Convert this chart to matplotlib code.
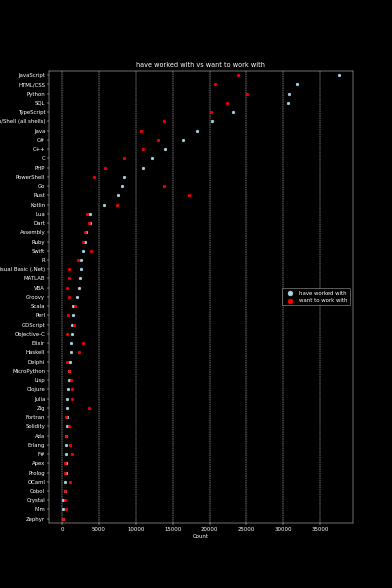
import matplotlib
matplotlib.use("Agg")
import matplotlib.pyplot as plt

# languages sorted by "have worked with" count
languages = ['JavaScript', 'HTML/CSS', 'Python', 'SQL', 'TypeScript',
             'Bash/Shell (all shells)', 'Java', 'C#', 'C++', 'C', 'PHP',
             'PowerShell', 'Go', 'Rust', 'Kotlin', 'Lua', 'Dart', 'Assembly',
             'Ruby', 'Swift', 'R', 'Visual Basic (.Net)', 'MATLAB', 'VBA',
             'Groovy', 'Scala', 'Perl', 'GDScript', 'Objective-C', 'Elixir',
             'Haskell', 'Delphi', 'MicroPython', 'Lisp', 'Clojure', 'Julia',
             'Zig', 'Fortran', 'Solidity', 'Ada', 'Erlang', 'F#', 'Apex',
             'Prolog', 'OCaml', 'Cobol', 'Crystal', 'Nim', 'Zephyr']

worked_with = [37560, 31890, 30760, 30670, 23150,
               20400, 18240, 16350, 13920, 12250, 11030,
               8380, 8160, 7620, 5730, 3740, 3740, 3290,
               3160, 2840, 2620, 2530, 2390, 2260,
               2030, 1540, 1490, 1350, 1310, 1220,
               1180, 1080, 960, 910, 770, 730,
               680, 680, 640, 520, 550, 550, 500,
               550, 460, 400, 190, 190, 100]

want_to_work_with = [23830, 20720, 25090, 22430, 20220,
                     13780, 10720, 12970, 10940, 8380, 5850,
                     4370, 13870, 17250, 7390, 3340, 3650, 3070,
                     2800, 3920, 2210, 1000, 1000, 730,
                     910, 1810, 820, 1670, 730, 2890,
                     2260, 640, 1000, 1220, 1350, 1310,
                     3650, 500, 950, 550, 1130, 1310, 430,
                     430, 1080, 410, 410, 550, 190]

plt.style.use('dark_background')
fig = plt.figure(figsize=(10, 15), dpi=39.2)
ax = plt.gca()

ypos = list(range(len(languages)))
plt.scatter(worked_with, ypos, color='lightblue', s=24, label='have worked with')
plt.scatter(want_to_work_with, ypos, color='red', s=24, label='want to work with')

plt.yticks(ypos, languages)
plt.ylim(len(languages) - 0.5, -0.5)
plt.xticks(range(0, 40000, 5000))
plt.grid(axis='x', linestyle='--')
ax.set_axisbelow(True)

plt.title('have worked with vs want to work with')
plt.xlabel('Count')
plt.legend(loc='center right', markerscale=1.8)

plt.savefig('out.png', dpi=39.2)
